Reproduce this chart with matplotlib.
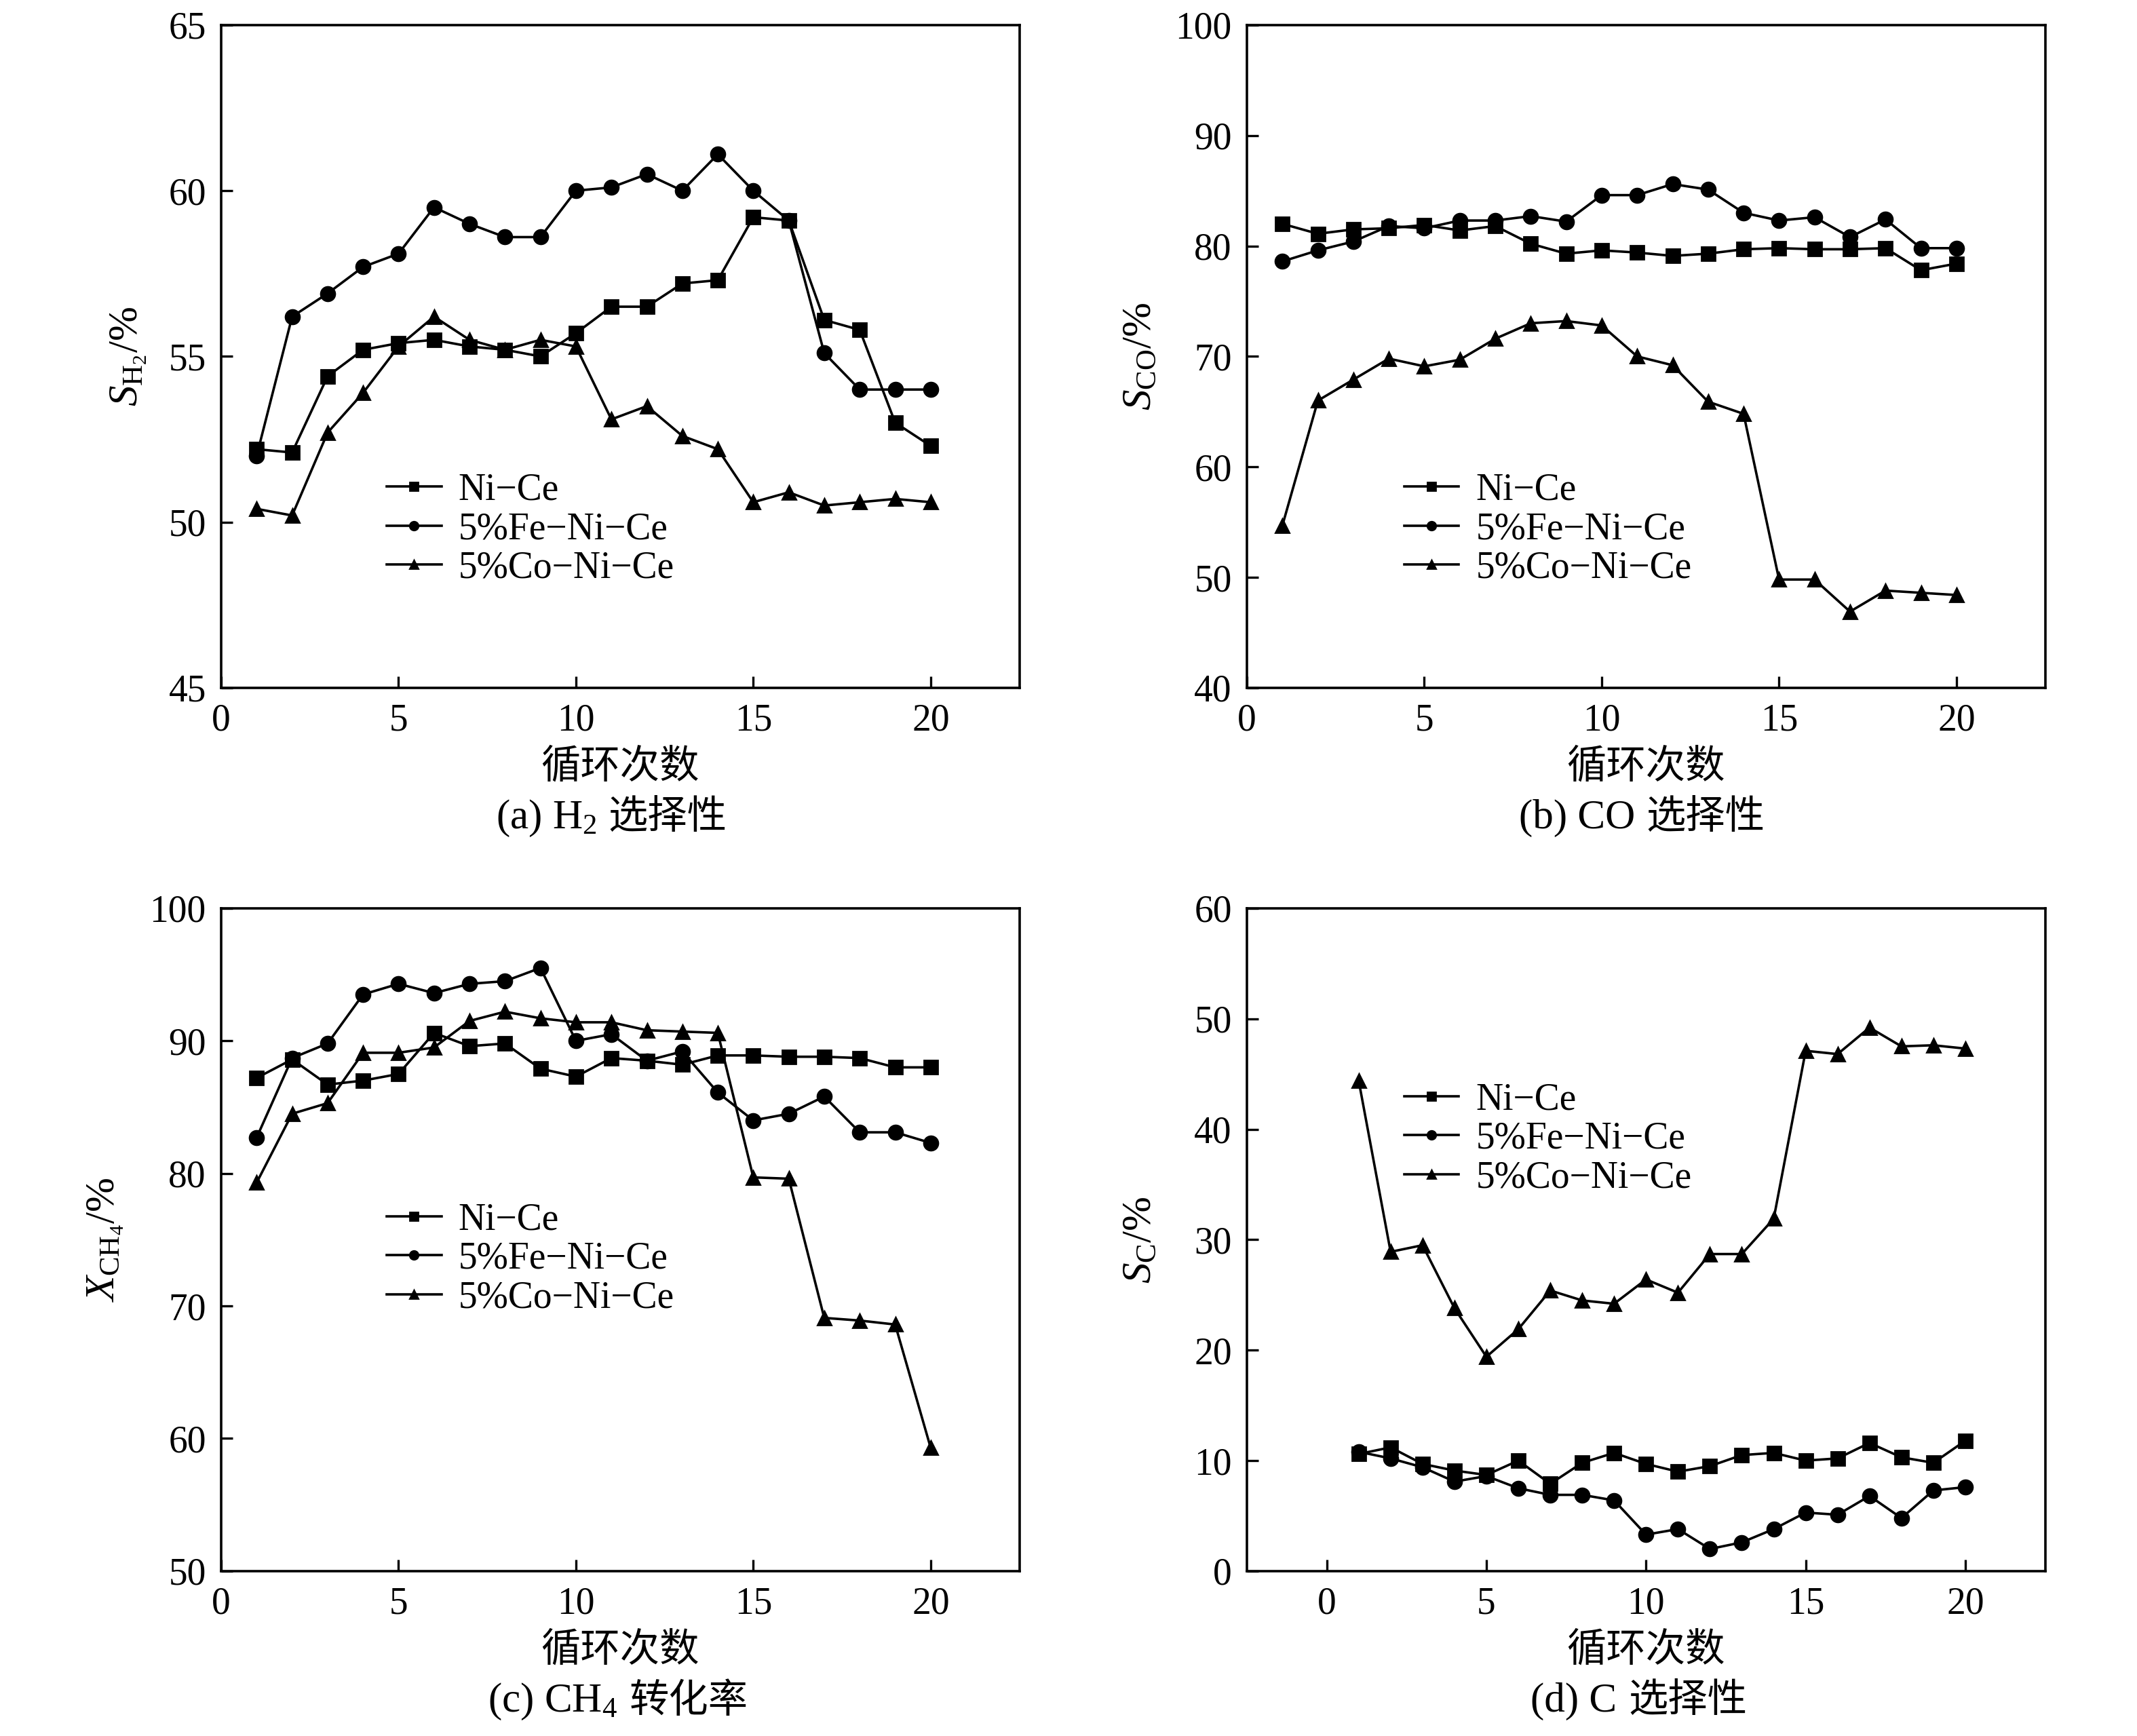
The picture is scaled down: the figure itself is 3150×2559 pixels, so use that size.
import numpy as np
import matplotlib
matplotlib.use('Agg')
import matplotlib.pyplot as plt

plt.rcParams['font.family'] = ['Liberation Serif', 'Noto Sans CJK SC', 'DejaVu Sans']
plt.rcParams['mathtext.fontset'] = 'custom'
plt.rcParams['mathtext.rm'] = 'Liberation Serif'
plt.rcParams['mathtext.it'] = 'Liberation Serif:italic'
plt.rcParams['axes.unicode_minus'] = False

# cycle number
cycles = np.arange(1, 21)
names = ['Ni\u2212Ce', '5%Fe\u2212Ni\u2212Ce', '5%Co\u2212Ni\u2212Ce']

# (a) H2 selectivity
sh2_ni = [52.2, 52.1, 54.4, 55.2, 55.4, 55.5, 55.3, 55.2, 55.0, 55.7,
          56.5, 56.5, 57.2, 57.3, 59.2, 59.1, 56.1, 55.8, 53.0, 52.3]
sh2_fe = [52.0, 56.2, 56.9, 57.7, 58.1, 59.5, 59.0, 58.6, 58.6, 60.0,
          60.1, 60.5, 60.0, 61.1, 60.0, 59.1, 55.1, 54.0, 54.0, 54.0]
sh2_co = [50.4, 50.2, 52.7, 53.9, 55.3, 56.2, 55.5, 55.2, 55.5, 55.3,
          53.1, 53.5, 52.6, 52.2, 50.6, 50.9, 50.5, 50.6, 50.7, 50.6]

# (b) CO selectivity
sco_ni = [82.0, 81.1, 81.5, 81.6, 81.9, 81.4, 81.8, 80.2, 79.3, 79.6,
          79.4, 79.1, 79.3, 79.7, 79.8, 79.7, 79.7, 79.8, 77.8, 78.4]
sco_fe = [78.6, 79.6, 80.4, 81.8, 81.6, 82.3, 82.3, 82.7, 82.2, 84.6,
          84.6, 85.6, 85.1, 83.0, 82.3, 82.6, 80.8, 82.4, 79.8, 79.8]
sco_co = [54.7, 66.0, 67.9, 69.8, 69.1, 69.7, 71.6, 73.0, 73.2, 72.8,
          70.0, 69.2, 65.9, 64.8, 49.8, 49.8, 46.9, 48.8, 48.6, 48.4]

# (c) CH4 conversion
xch4_ni = [87.2, 88.6, 86.7, 87.0, 87.5, 90.6, 89.6, 89.8, 87.9, 87.3,
           88.7, 88.5, 88.2, 88.9, 88.9, 88.8, 88.8, 88.7, 88.0, 88.0]
xch4_fe = [82.7, 88.7, 89.8, 93.5, 94.3, 93.6, 94.3, 94.5, 95.5, 90.0,
           90.5, 88.5, 89.2, 86.1, 84.0, 84.5, 85.8, 83.1, 83.1, 82.3]
xch4_co = [79.3, 84.5, 85.3, 89.1, 89.1, 89.5, 91.5, 92.2, 91.7, 91.4,
           91.4, 90.8, 90.7, 90.6, 79.7, 79.6, 69.1, 68.9, 68.6, 59.3]

# (d) C selectivity
sc_ni = [10.6, 11.2, 9.7, 9.1, 8.7, 10.0, 7.9, 9.8, 10.7, 9.7,
         9.0, 9.5, 10.5, 10.7, 10.0, 10.2, 11.6, 10.3, 9.8, 11.8]
sc_fe = [10.8, 10.2, 9.4, 8.1, 8.6, 7.5, 6.9, 6.9, 6.4, 3.3,
         3.8, 2.0, 2.6, 3.8, 5.3, 5.1, 6.8, 4.8, 7.3, 7.6]
sc_co = [44.4, 28.9, 29.5, 23.8, 19.4, 21.9, 25.4, 24.5, 24.2, 26.4,
         25.2, 28.7, 28.7, 31.9, 47.1, 46.8, 49.2, 47.5, 47.6, 47.3]

fig = plt.figure(figsize=(15.75, 12.795), dpi=200)

lefts = [0.1035, 0.5835]
bottoms = [0.6038, 0.0950]
w, h = 0.3735, 0.3818

panels = [
    dict(pos=(lefts[0], bottoms[0]), data=(sh2_ni, sh2_fe, sh2_co), ylim=(45, 65), yt=np.arange(45, 66, 5),
         xlim=(0, 22.5), ylab=r'$S_{\mathrm{H_2}}$/%', ylx=-0.116, leg=(0.2075, 0.239),
         cap1='(a) H$_2$', cap2='选择性', capx=0.471),
    dict(pos=(lefts[1], bottoms[0]), data=(sco_ni, sco_fe, sco_co), ylim=(40, 100), yt=np.arange(40, 101, 10),
         xlim=(0, 22.5), ylab=r'$S_{\mathrm{CO}}$/%', ylx=-0.134, leg=(0.197, 0.239),
         cap1='(b) CO', cap2='选择性', capx=0.486),
    dict(pos=(lefts[0], bottoms[1]), data=(xch4_ni, xch4_fe, xch4_co), ylim=(50, 100), yt=np.arange(50, 101, 10),
         xlim=(0, 22.5), ylab=r'$X_{\mathrm{CH_4}}$/%', ylx=-0.145, leg=(0.2075, 0.471),
         cap1='(c) CH$_4$', cap2='转化率', capx=0.497),
    dict(pos=(lefts[1], bottoms[1]), data=(sc_ni, sc_fe, sc_co), ylim=(0, 60), yt=np.arange(0, 61, 10),
         xlim=(-2.5, 22.5), ylab=r'$S_{\mathrm{C}}$/%', ylx=-0.134, leg=(0.197, 0.652),
         cap1='(d) C', cap2='选择性', capx=0.4635),
]

markers = ['s', 'o', '^']

for p in panels:
    ax = fig.add_axes([p['pos'][0], p['pos'][1], w, h])
    for ys, m, name in zip(p['data'], markers, names):
        ax.plot(cycles, ys, color='black', lw=1.3, marker=m, ms=7.5,
                mfc='black', mec='black', label=name)
    ax.set_xlim(*p['xlim'])
    ax.set_ylim(*p['ylim'])
    ax.set_xticks([0, 5, 10, 15, 20])
    ax.set_yticks(p['yt'])
    ax.tick_params(direction='in', length=6, width=1.2, labelsize=20, pad=8,
                   top=False, right=False)
    for s in ax.spines.values():
        s.set_linewidth(1.3)
    ax.set_xlabel('循环次数', fontsize=21, va='center')
    ax.xaxis.set_label_coords(0.5, -0.12)
    ax.set_ylabel(p['ylab'], fontsize=22, va='center')
    ax.yaxis.set_label_coords(p['ylx'], 0.5)
    ax.legend(loc='center left', bbox_to_anchor=p['leg'], frameon=False,
              fontsize=20, borderpad=0, borderaxespad=0, handlelength=1.45,
              handletextpad=0.45, labelspacing=0.1, markerscale=0.6)
    t1 = ax.text(p['capx'], -0.197, p['cap1'], transform=ax.transAxes,
                 ha='right', va='center', fontsize=22)
    ax.annotate(p['cap2'], xy=(1, 0.5), xycoords=t1, xytext=(6, 0),
                textcoords='offset points', ha='left', va='center', fontsize=21)

fig.savefig('out.png', dpi=200)
